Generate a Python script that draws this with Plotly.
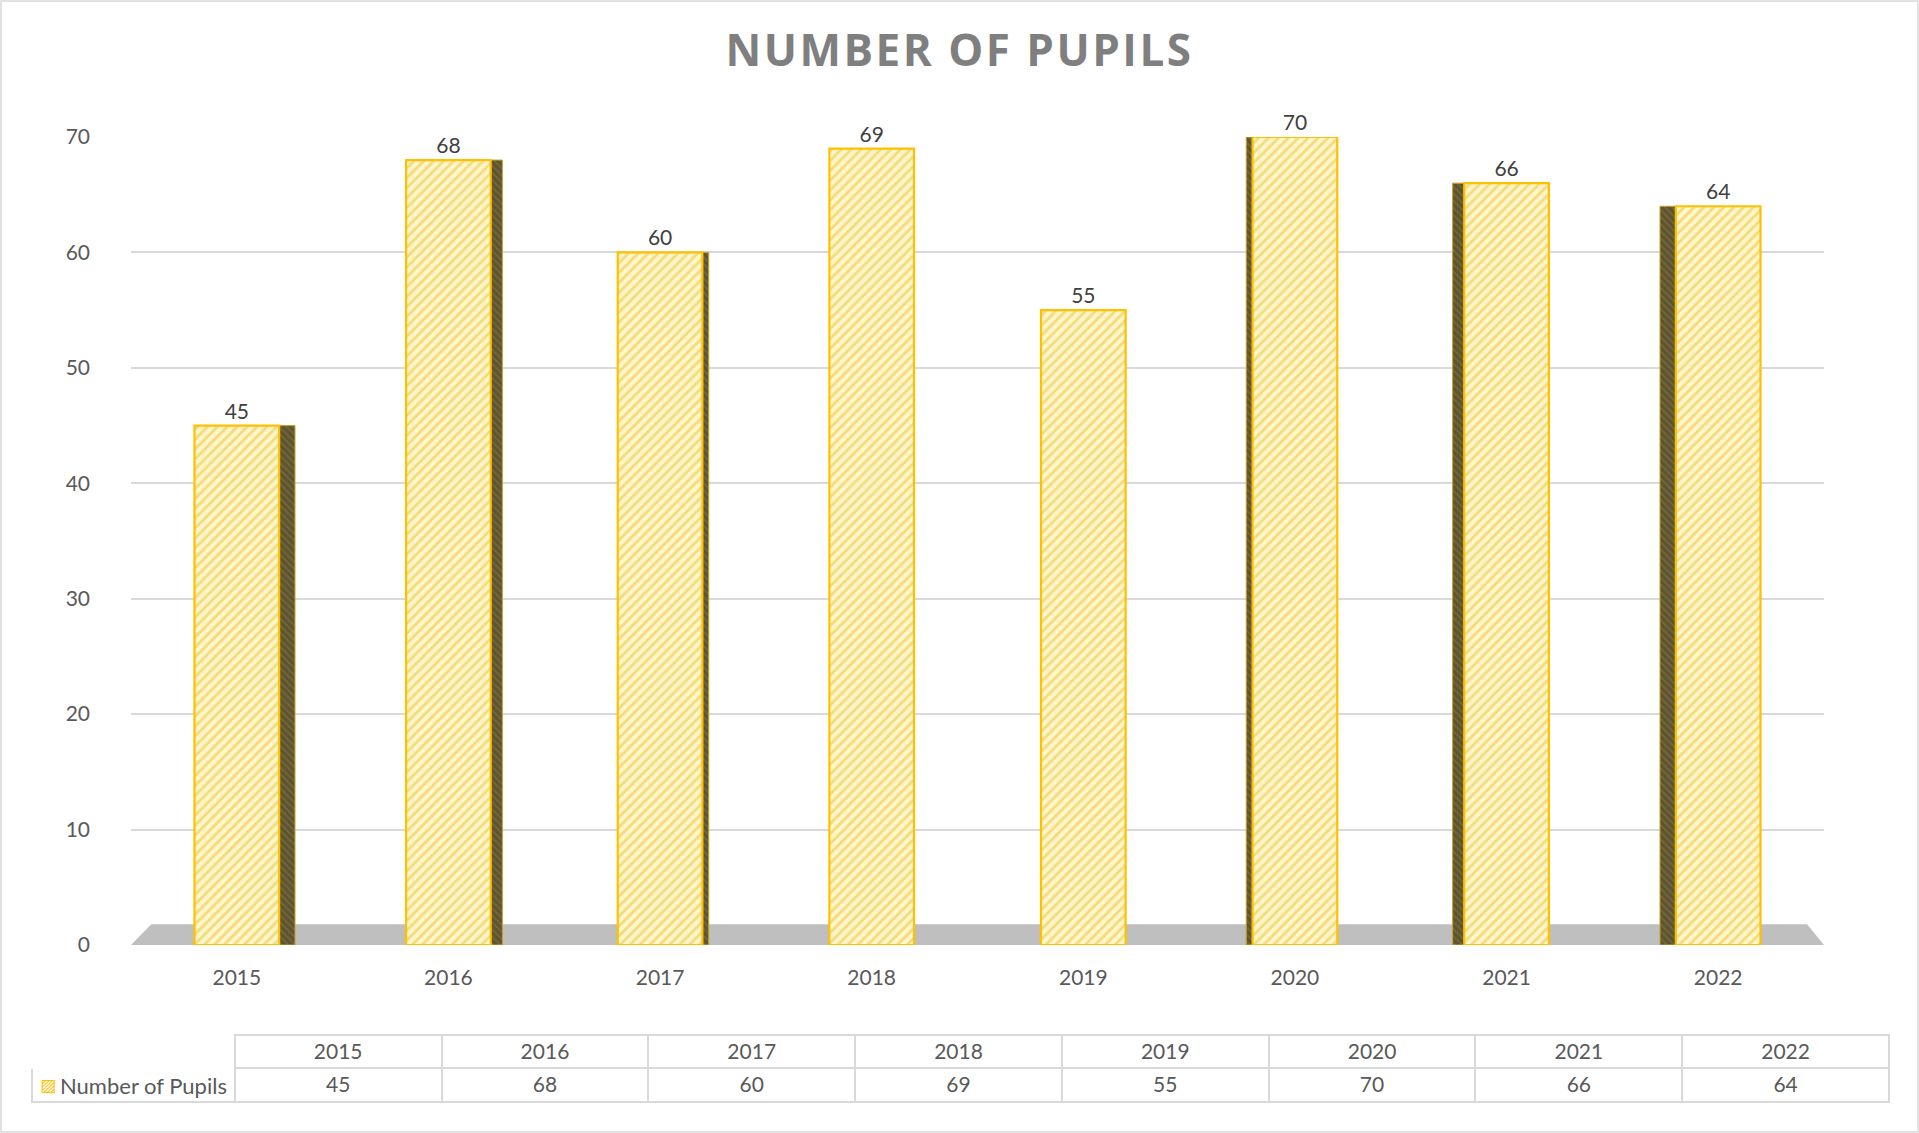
import plotly.graph_objects as go

# ---- data ----
years = ["2015", "2016", "2017", "2018", "2019", "2020", "2021", "2022"]
pupils = [45, 68, 60, 69, 55, 70, 66, 64]
y_ticks = [0, 10, 20, 30, 40, 50, 60, 70]
series_name = "Number of Pupils"
chart_title = "NUMBER OF PUPILS"

# ---- styles ----
W, H = 1919, 1133
FONT = "Lato, sans-serif"
TXT = "#595959"
GOLD = "#FFC000"
GRID = "#D9D9D9"
FS = 21

# perspective side-face widths/offsets (style only), in category units
side_w = [0.08, 0.06, 0.035, 0.0, 0.0, 0.035, 0.06, 0.08]
bar_w = 0.40
side_off = []
for i, w in enumerate(side_w):
    if i < 4:
        side_off.append(bar_w / 2 - 0.005)
    else:
        side_off.append(-bar_w / 2 - w + 0.005)

fig = go.Figure()

# side faces (drawn behind)
fig.add_trace(go.Bar(
    x=years, y=pupils, width=side_w, offset=side_off,
    marker=dict(color="#6B6038", line=dict(color="#C9A227", width=1),
                pattern=dict(shape="\\", fgcolor="#8C7E4A", bgcolor="#5E5430", size=5, solidity=0.3)),
    hoverinfo="skip", showlegend=False,
))

# front faces
fig.add_trace(go.Bar(
    x=years, y=pupils, width=bar_w, name=series_name,
    marker=dict(
        color="#FFF2B0",
        line=dict(color=GOLD, width=2.2),
        pattern=dict(shape="/", fgcolor="#EEBE2A", bgcolor="#FFF7CC", size=7, solidity=0.42),
    ),
    text=[str(v) for v in pupils], textposition="outside",
    textfont=dict(family=FONT, size=FS, color="#404040"),
    cliponaxis=False, showlegend=False,
))

# data table
header_vals = [""] + years
cell_vals = [[""]] + [[str(v)] for v in pupils]
fig.add_trace(go.Table(
    domain=dict(x=[32 / W, 1889 / W], y=[(H - 1103) / H, (H - 1035) / H]),
    columnwidth=[203] + [207] * len(years),
    header=dict(
        values=header_vals,
        line=dict(color=["white"] + [GRID] * len(years), width=2),
        fill=dict(color="white"),
        font=dict(family=FONT, size=FS, color=TXT),
        align="center", height=33,
    ),
    cells=dict(
        values=cell_vals,
        line=dict(color=GRID, width=2),
        fill=dict(color="white"),
        font=dict(family=FONT, size=FS, color=TXT),
        align="center", height=34,
    ),
))

# legend key + series name inside the table's first cell
fig.add_annotation(text="▨", xref="paper", yref="paper", x=38 / W, y=(H - 1085) / H,
                   xanchor="left", yanchor="middle", showarrow=False,
                   font=dict(family="DejaVu Sans, sans-serif", size=17, color=GOLD))
fig.add_annotation(text=series_name, xref="paper", yref="paper", x=58 / W, y=(H - 1085) / H,
                   xanchor="left", yanchor="middle", showarrow=False,
                   font=dict(family=FONT, size=22, color=TXT))

# floor (decorative band under bars)
fig.add_shape(type="path", xref="x domain", yref="y",
              path="M 0,0 L 1,0 L 0.99,1.8 L 0.012,1.8 Z",
              fillcolor="#BFBFBF", line=dict(width=0), layer="below")
# outer border
fig.add_shape(type="rect", xref="paper", yref="paper", x0=0.0005, y0=0.0008, x1=0.9995, y1=0.9992,
              line=dict(color="#D9D9D9", width=1.5), fillcolor="rgba(0,0,0,0)")

fig.update_layout(
    autosize=True,
    margin=dict(l=0, r=0, t=0, b=0, pad=0, autoexpand=False),
    paper_bgcolor="white", plot_bgcolor="white",
    barmode="overlay",
    title=dict(text=chart_title, x=0.5, xanchor="center", y=1 - 51 / H, yanchor="middle",
               font=dict(family="Open Sans, sans-serif", size=44, color="#7F7F7F", weight="bold")),
    xaxis=dict(domain=[131 / W, 1824 / W], showgrid=False, showline=False, zeroline=False,
               automargin=False,
               tickfont=dict(family=FONT, size=FS, color=TXT), ticks="", ticklabelstandoff=18),
    yaxis=dict(domain=[(H - 945) / H, (H - 137) / H], range=[0, 70], tickvals=y_ticks,
               automargin=False,
               showgrid=True, gridcolor=GRID, gridwidth=2, zeroline=False, showline=False,
               tickfont=dict(family=FONT, size=FS, color=TXT), ticks="", ticklabelstandoff=40),
    font=dict(family=FONT, color=TXT),
)

post = """
document.documentElement.style.margin='0';
document.body.style.margin='0';
document.body.style.overflow='hidden';
var gd=document.getElementById('{plot_id}');
function ls(){var t=gd.querySelector('.gtitle'); if(t){t.style.letterSpacing='2.5px';}}
gd.on('plotly_afterplot', ls);
Plotly.Plots.resize(gd).then(ls);
ls();
"""
fig.write_html("out.html", post_script=post, config={"displayModeBar": False},
               default_width="100vw", default_height="100vh")
